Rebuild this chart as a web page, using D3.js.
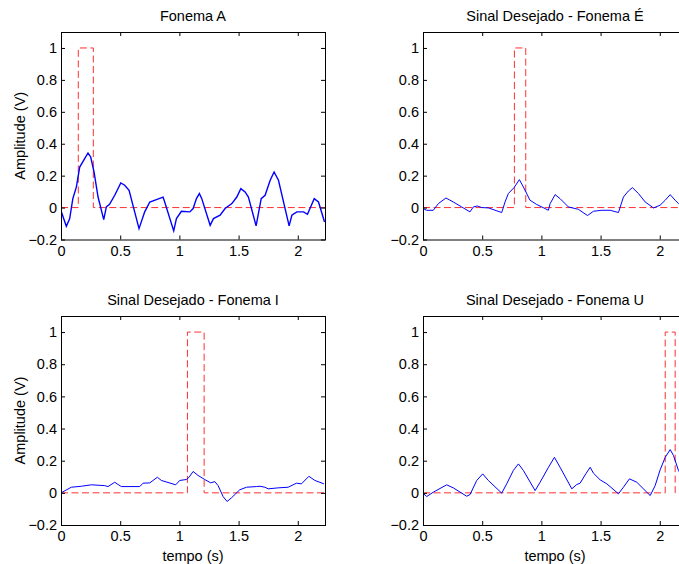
<!DOCTYPE html>
<html>
<head>
<meta charset="utf-8">
<script src="https://cdn.jsdelivr.net/npm/d3@7"></script>
<style>
  html, body { margin: 0; padding: 0; background: #fff; overflow: hidden; }
  svg { display: block; font-family: "Liberation Sans", Arial, Helvetica, sans-serif; }
  .axis path { display: none; }
  .axis line { stroke: #000; }
  .axis text { font-size: 14.5px; fill: #000; }
  .frame { fill: none; stroke: #000; stroke-width: 1; }
  .signal { fill: none; stroke: #0000ff; stroke-width: 1; }
  .signal.noisy { stroke-width: 1.4; }
  .pulse { fill: none; stroke: #ff3030; stroke-width: 1; stroke-dasharray: 7,3.5; }
  .title, .label { font-size: 14.5px; fill: #000; }
</style>
</head>
<body>
<div id="chart"></div>
<script>
const SVG_WIDTH = 679;
const SVG_HEIGHT = 564;
const X_MAX = 2.23;
const X_TICKS = [0, 0.5, 1, 1.5, 2];
const Y_TICKS = [-0.2, 0, 0.2, 0.4, 0.6, 0.8, 1];
const Y_DOMAIN = [-0.2, 1.1];

const TITLES = ["Fonema A", "Sinal Desejado - Fonema É", "Sinal Desejado - Fonema I", "Sinal Desejado - Fonema U"];
const Y_LABEL = "Amplitude (V)";
const X_LABEL = "tempo (s)";

// desired signal: 1 between start and end, 0 elsewhere
const PULSE_START = [0.146, 0.772, 1.068, 2.046];
const PULSE_END = [0.273, 0.868, 1.209, 2.130];

// Fonema A
const tempoA = [0, 0.045, 0.073, 0.10, 0.13, 0.158, 0.20, 0.228, 0.251, 0.279, 0.313, 0.361, 0.383, 0.41, 0.454, 0.505, 0.538, 0.575,
    0.659, 0.707, 0.75, 0.806, 0.862, 0.876, 0.952, 0.975, 1.017, 1.088, 1.116, 1.144, 1.169, 1.189, 1.26, 1.288, 1.344, 1.386,
    1.443, 1.485, 1.519, 1.555, 1.583, 1.648, 1.691, 1.724, 1.767, 1.80, 1.837, 1.927, 1.95, 1.992, 2.049, 2.082, 2.139, 2.175, 2.226];
const amplitudeA = [-0.02, -0.117, -0.07, 0.056, 0.13, 0.254, 0.307, 0.342, 0.317, 0.223, 0.066, -0.075, 0.004, 0.02, 0.077, 0.154, 0.14, 0.108,
    -0.132, -0.027, 0.035, 0.05, 0.066, 0.035, -0.146, -0.069, -0.023, -0.027, -0.006, 0.056, 0.088, 0.056, -0.111, -0.069, -0.048, -0.006,
    0.025, 0.066, 0.119, 0.098, 0.066, -0.115, 0.056, 0.077, 0.171, 0.223, 0.171, -0.115, -0.048, -0.027, -0.027, -0.042, 0.056, 0.035, -0.09];

// Fonema É
const tempoE = [0, 0.031, 0.087, 0.13, 0.194, 0.256, 0.327, 0.397, 0.425, 0.459, 0.496, 0.552, 0.665, 0.693, 0.721, 0.769, 0.814, 0.848,
    0.904, 0.961, 1.031, 1.059, 1.074, 1.116, 1.158, 1.228, 1.313, 1.389, 1.44, 1.51, 1.581, 1.651, 1.693, 1.735, 1.769, 1.82,
    1.877, 1.947, 2.003, 2.046, 2.088, 2.13, 2.158, 2.23];
const amplitudeE = [-0.006, -0.017, -0.017, 0.025, 0.06, 0.035, 0.004, -0.027, 0.004, 0.01, 0, -0.002, -0.031, 0.035, 0.088, 0.125, 0.175, 0.129,
    0.046, 0.019, -0.006, -0.017, 0.025, 0.081, 0.056, 0.004, -0.011, -0.05, -0.023, -0.017, -0.017, -0.031, 0.066, 0.104, 0.125, 0.088,
    0.035, -0.002, 0.015, 0.046, 0.081, 0.046, 0.025, 0.0];

// Fonema I
const tempoI = [0, 0.087, 0.172, 0.256, 0.369, 0.397, 0.454, 0.482, 0.51, 0.665, 0.693, 0.75, 0.814, 0.848, 0.969, 1.003, 1.059, 1.082,
    1.116, 1.158, 1.214, 1.265, 1.299, 1.327, 1.369, 1.403, 1.44, 1.51, 1.567, 1.651, 1.68, 1.722, 1.75, 1.834, 1.919, 1.989,
    2.031, 2.094, 2.145, 2.221];
const amplitudeI = [0, 0.035, 0.041, 0.05, 0.045, 0.039, 0.066, 0.052, 0.039, 0.039, 0.06, 0.062, 0.097, 0.077, 0.05, 0.077, 0.083, 0.097,
    0.133, 0.108, 0.083, 0.062, 0.07, 0.045, -0.023, -0.054, -0.031, 0.019, 0.035, 0.039, 0.041, 0.035, 0.025, 0.031, 0.035, 0.06,
    0.056, 0.103, 0.077, 0.056];

// Fonema U
const tempoU = [0, 0.031, 0.087, 0.2, 0.256, 0.369, 0.397, 0.454, 0.504, 0.552, 0.665, 0.707, 0.763, 0.806, 0.848, 0.947, 0.989, 1.06,
    1.11, 1.158, 1.257, 1.299, 1.327, 1.375, 1.412, 1.44, 1.496, 1.553, 1.651, 1.693, 1.744, 1.806, 1.919, 1.961, 2.003, 2.046,
    2.088, 2.116, 2.158, 2.23];
const amplitudeU = [-0.002, -0.023, 0.004, 0.05, 0.031, -0.021, -0.011, 0.077, 0.118, 0.077, -0.002, 0.056, 0.139, 0.18, 0.139, 0.014, 0.066, 0.159,
    0.221, 0.159, 0.025, 0.052, 0.06, 0.118, 0.159, 0.122, 0.081, 0.056, -0.006, 0.035, 0.087, 0.066, -0.017, 0.045, 0.143, 0.221,
    0.269, 0.232, 0.139, 0.05];

const SIGNAL_TEMPO = [tempoA, tempoE, tempoI, tempoU];
const SIGNAL_AMPLITUDE = [amplitudeA, amplitudeE, amplitudeI, amplitudeU];

// panel layout (MATLAB subplot 2x2)
const PANEL_LEFT = [61, 423, 61, 423];
const PANEL_TOP = [32, 32, 316, 316];
const PANEL_WIDTH = 264;
const PANEL_HEIGHT = [207.5, 207.5, 209, 209];

let svg = d3.select("#chart").append("svg")
    .attr("width", SVG_WIDTH)
    .attr("height", SVG_HEIGHT);

svg.append("rect").attr("width", SVG_WIDTH).attr("height", SVG_HEIGHT).attr("fill", "#fff");

const drawPanel = (i) => {
    let w = PANEL_WIDTH, h = PANEL_HEIGHT[i];
    let g = svg.append("g").attr("transform", `translate(${PANEL_LEFT[i]},${PANEL_TOP[i]})`);

    let x = d3.scaleLinear().domain([0, X_MAX]).range([0, w]);
    let y = d3.scaleLinear().domain(Y_DOMAIN).range([h, 0]);

    g.append("clipPath").attr("id", "clip" + i)
        .append("rect").attr("width", w).attr("height", h);

    let plot = g.append("g").attr("clip-path", `url(#clip${i})`);

    // red dashed pulse
    let pulsePoints = [[0, 0], [PULSE_START[i], 0], [PULSE_START[i], 1], [PULSE_END[i], 1], [PULSE_END[i], 0], [X_MAX, 0]];
    plot.append("path")
        .datum(pulsePoints)
        .attr("class", "pulse")
        .attr("d", d3.line().x(d => x(d[0])).y(d => y(d[1])));

    // blue signal
    let tempo = SIGNAL_TEMPO[i], amp = SIGNAL_AMPLITUDE[i];
    plot.append("path")
        .datum(tempo.map((t, k) => [t, amp[k]]))
        .attr("class", i == 0 ? "signal noisy" : "signal")
        .attr("d", d3.line().x(d => x(d[0])).y(d => y(d[1])));

    // axes with inward ticks, box on
    g.append("g").attr("class", "axis").attr("transform", `translate(0,${h})`)
        .call(d3.axisBottom(x).tickValues(X_TICKS).tickSize(-4).tickPadding(6).tickFormat(d3.format("")));
    g.append("g").attr("class", "axis")
        .call(d3.axisTop(x).tickValues(X_TICKS).tickSize(-4).tickFormat(""));
    g.append("g").attr("class", "axis")
        .call(d3.axisLeft(y).tickValues(Y_TICKS).tickSize(-4).tickPadding(4).tickFormat(d3.format("")));
    g.append("g").attr("class", "axis").attr("transform", `translate(${w},0)`)
        .call(d3.axisRight(y).tickValues(Y_TICKS).tickSize(-4).tickFormat(""));

    g.append("rect").attr("class", "frame")
        .attr("x", 0.5).attr("y", 0.5).attr("width", w).attr("height", h);

    g.append("text").attr("class", "title")
        .attr("x", w / 2).attr("y", -11)
        .attr("text-anchor", "middle")
        .text(TITLES[i]);

    if (i % 2 == 0) {
        g.append("text").attr("class", "label")
            .attr("transform", `translate(-36,${h / 2}) rotate(-90)`)
            .attr("text-anchor", "middle")
            .text(Y_LABEL);
    }
    if (i >= 2) {
        g.append("text").attr("class", "label")
            .attr("x", w / 2).attr("y", h + 36)
            .attr("text-anchor", "middle")
            .text(X_LABEL);
    }
}

[0, 1, 2, 3].forEach(drawPanel);
</script>
</body>
</html>
